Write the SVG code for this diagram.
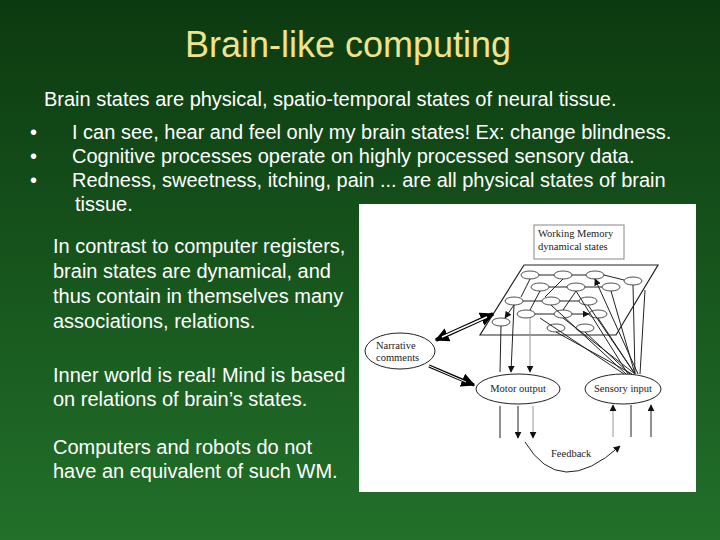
<svg xmlns="http://www.w3.org/2000/svg" width="720" height="540" viewBox="0 0 720 540">
<defs>
<linearGradient id="bg" x1="0" y1="0" x2="0" y2="1"><stop offset="0" stop-color="#0c3a10"/><stop offset="1" stop-color="#22702a"/></linearGradient>
<marker id="a" viewBox="0 0 10 10" refX="9" refY="5" markerWidth="7" markerHeight="7" orient="auto-start-reverse"><path d="M0,0L10,5L0,10z" fill="#111"/></marker>
<marker id="big" viewBox="0 0 10 10" refX="9" refY="5" markerWidth="14" markerHeight="14" orient="auto-start-reverse" markerUnits="userSpaceOnUse"><path d="M0,0L10,5L0,10z" fill="#000"/></marker>
<style>
.t{font-family:"Liberation Sans",Arial,sans-serif;font-size:20px;fill:#fff}
.f{font-family:"Liberation Serif","Times New Roman",serif;font-size:10.5px;fill:#222}
.e{fill:#fff;stroke:#222;stroke-width:1}
.s{fill:#fff;stroke:#222;stroke-width:0.8}
.l{stroke:#222;stroke-width:1;fill:none;marker-end:url(#a)}
.g{stroke:#999;stroke-width:1;fill:none;marker-end:url(#a)}
</style>
</defs>
<rect width="720" height="540" fill="url(#bg)"/>
<text x="348" y="57" text-anchor="middle" font-family="Liberation Sans,Arial,sans-serif" font-size="36" fill="#f2e28c">Brain-like computing</text>
<text class="t" x="44" y="106">Brain states are physical, spatio-temporal states of neural tissue.</text>
<g class="t">
<text x="30" y="139">•</text><text x="72" y="139">I can see, hear and feel only my brain states! Ex: change blindness.</text>
<text x="30" y="163">•</text><text x="72" y="163">Cognitive processes operate on highly processed sensory data.</text>
<text x="30" y="187">•</text><text x="72" y="187">Redness, sweetness, itching, pain ... are all physical states of brain</text>
<text x="75" y="211">tissue.</text>
<text x="53" y="253">In contrast to computer registers,</text>
<text x="53" y="278">brain states are dynamical, and</text>
<text x="53" y="303">thus contain in themselves many</text>
<text x="53" y="328">associations, relations.</text>
<text x="53" y="382">Inner world is real! Mind is based</text>
<text x="53" y="406">on relations of brain’s states.</text>
<text x="53" y="454">Computers and robots do not</text>
<text x="53" y="478">have an equivalent of such WM.</text>
</g>
<rect x="359" y="204" width="337" height="288" fill="#fff"/>
<g id="wm"><rect x="534" y="225" width="90" height="34" fill="#fff" stroke="#888"/><text class="f" x="538" y="237">Working Memory</text><text class="f" x="538" y="250">dynamical states</text></g>
<g id="plane"><path d="M524,265L658,265L616,335L480,335z" fill="none" stroke="#222" stroke-width="1.2"/>
<g class="s">
<ellipse cx="530" cy="275" rx="9" ry="4"/><ellipse cx="563" cy="275" rx="9" ry="4"/><ellipse cx="595" cy="275" rx="9" ry="4"/><ellipse cx="633" cy="281" rx="9" ry="4"/>
<ellipse cx="540" cy="287" rx="9" ry="4"/><ellipse cx="576" cy="287" rx="9" ry="4"/><ellipse cx="611" cy="287" rx="9" ry="4"/>
<ellipse cx="514" cy="301" rx="9" ry="4"/><ellipse cx="551" cy="301" rx="9" ry="4"/><ellipse cx="588" cy="301" rx="9" ry="4"/>
<ellipse cx="526" cy="314" rx="9" ry="4"/><ellipse cx="563" cy="314" rx="9" ry="4"/><ellipse cx="598" cy="314" rx="9" ry="4"/>
<ellipse cx="501" cy="322" rx="9" ry="4"/><ellipse cx="556" cy="328" rx="9" ry="4"/><ellipse cx="585" cy="328" rx="9" ry="4"/>
</g></g>
<g id="narrative"><ellipse class="e" cx="400" cy="351" rx="35" ry="18"/><text class="f" x="376" y="349">Narrative</text><text class="f" x="376" y="361">comments</text></g>
<g id="motor"><ellipse class="e" cx="518" cy="389" rx="42" ry="15"/><text class="f" x="518" y="392" text-anchor="middle">Motor output</text></g>
<g id="sensory"><ellipse class="e" cx="623" cy="389" rx="38" ry="15"/><text class="f" x="623" y="392" text-anchor="middle">Sensory input</text></g>
<g id="connectors">
<path class="l" d="M539,275L554,275M572,275L586,275M604,275L624,280M549,287L567,287M585,287L602,287M523,301L542,301M560,301L579,301M535,314L554,314M572,314L589,314"/>
<path class="l" d="M530,279L521,297M563,279L545,297M540,291L530,310M576,291L563,310M514,305L505,318"/>
<path class="l" d="M635,374L633,285M635,374L611,291M635,374L598,318M635,374L588,305M635,374L563,318M632,374L556,332M630,374L585,332M628,374L576,291M626,374L551,305M624,374L540,318M640,374L645,290M638,374L595,279"/>
<path class="l" d="M501,326L500,372M514,305L511,372"/><path class="g" d="M530,318L530,372"/>
<path class="l" d="M500,406L500,438M518,406L518,438"/><path class="g" d="M533,406L533,438"/>
<path class="g" d="M613,437L613,405"/><path class="l" d="M631,437L631,405M651,437L651,405"/>
<path d="M525,442Q560,500 620,446" class="l"/>
<path d="M436,340L493,314" stroke="#000" stroke-width="4" fill="none" marker-end="url(#big)" marker-start="url(#big)"/>
<path d="M442,337L487,317" stroke="#fff" stroke-width="1.5" fill="none"/>
<path d="M429,366L474,385" stroke="#000" stroke-width="3" fill="none" marker-end="url(#big)"/>
<path d="M429,366L466,382" stroke="#fff" stroke-width="1" fill="none"/>
</g>
<text class="f" x="551" y="457">Feedback</text>
</svg>
